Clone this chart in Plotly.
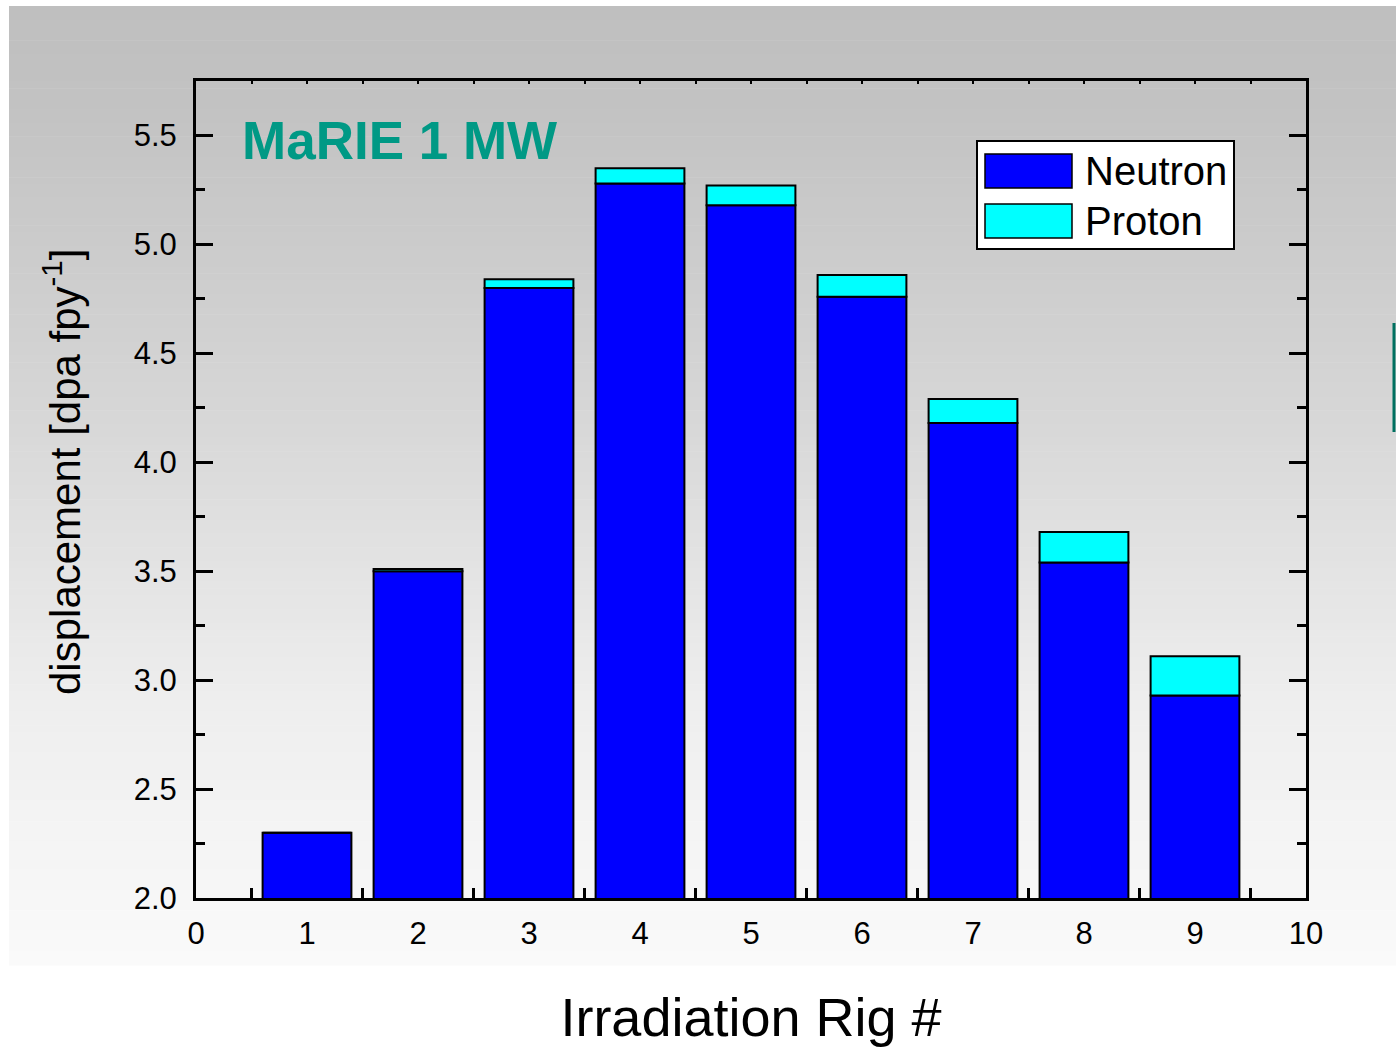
import plotly.graph_objects as go
import numpy as np

rigs = [1, 2, 3, 4, 5, 6, 7, 8, 9]
neutron = [2.30, 3.50, 4.80, 5.28, 5.18, 4.76, 4.18, 3.54, 2.93]
proton = [0.00, 0.01, 0.04, 0.07, 0.09, 0.10, 0.11, 0.14, 0.18]
series_names = ["Neutron", "Proton"]
series_colors = ["#0000ff", "#00ffff"]
title_text = "MaRIE 1 MW"
x_title = "Irradiation Rig #"
y_title = "displacement [dpa fpy<sup>-1</sup>]"

W, H = 1396, 1048
L, R, T, B = 196, 90, 81, 150
PW, PH = W - L - R, H - T - B
FONT = "Liberation Sans, Arial, sans-serif"


def px(x):
    return (x - L) / PW


def py(y):
    return (H - B - y) / PH


fig = go.Figure()
fig.add_trace(go.Bar(x=rigs, y=neutron, name=series_names[0], width=0.8,
                     marker=dict(color=series_colors[0], line=dict(color="black", width=2)),
                     base=0, showlegend=False))
fig.add_trace(go.Bar(x=rigs, y=proton, name=series_names[1], width=0.8,
                     marker=dict(color=series_colors[1], line=dict(color="black", width=2)),
                     base=neutron, showlegend=False))
# dummy trace for top/right tick axes
fig.add_trace(go.Scatter(x=[None], y=[None], xaxis="x2", yaxis="y2", showlegend=False,
                         hoverinfo="skip", mode="markers"))

shapes = []
# background gradient
stops_y = [6, 100, 380, 700, 900, 965]
stops_v = [191, 194, 212, 238, 247, 250]
n = 140
edges = np.linspace(6, 965, n + 1)
for i in range(n):
    ym = 0.5 * (edges[i] + edges[i + 1])
    v = int(round(np.interp(ym, stops_y, stops_v)))
    shapes.append(dict(type="rect", xref="paper", yref="paper", layer="below",
                       x0=px(9), x1=px(W + 2), y0=py(edges[i + 1] + 0.6), y1=py(edges[i]),
                       fillcolor=f"rgb({v},{v},{v})", line=dict(width=0)))
# teal artifact at right edge
shapes.append(dict(type="line", xref="paper", yref="paper", x0=px(1394), x1=px(1394),
                   y0=py(323), y1=py(432), line=dict(color="#007060", width=3)))
# legend box
shapes.append(dict(type="rect", xref="paper", yref="paper", x0=px(977), x1=px(1234),
                   y0=py(249), y1=py(141), fillcolor="white", line=dict(color="black", width=2)))
sw = [(154, 188), (204, 238)]
annotations = []
for (y0, y1), c, nm in zip(sw, series_colors, series_names):
    shapes.append(dict(type="rect", xref="paper", yref="paper", x0=px(985), x1=px(1072),
                       y0=py(y1), y1=py(y0), fillcolor=c, line=dict(color="black", width=1.5)))
    annotations.append(dict(xref="paper", yref="paper", x=px(1083), y=py((y0 + y1) / 2),
                            text=nm, showarrow=False, xanchor="left", yanchor="middle",
                            font=dict(family=FONT, size=40, color="black")))
annotations.append(dict(xref="paper", yref="paper", x=px(240), y=py(140), text=f"<b>{title_text}</b>",
                        showarrow=False, xanchor="left", yanchor="middle",
                        font=dict(family=FONT, size=53, color="#009985")))
annotations.append(dict(xref="paper", yref="paper", x=px(62), y=py(472), text=y_title,
                        textangle=-90, showarrow=False, xanchor="center", yanchor="middle",
                        font=dict(family=FONT, size=42, color="black")))

fig.update_layout(
    width=W, height=H, margin=dict(l=L, r=R, t=T, b=B, pad=0),
    paper_bgcolor="white", plot_bgcolor="rgba(0,0,0,0)",
    barmode="overlay", bargap=0.2,
    shapes=shapes, annotations=annotations,
    font=dict(family=FONT, color="black"),
    xaxis=dict(range=[0, 10], tickmode="array", tickvals=list(range(11)),
               ticks="inside", ticklen=17, tickwidth=3, tickcolor="black",
               minor=dict(dtick=0.5, ticks="inside", ticklen=10, tickwidth=3, tickcolor="black"),
               showline=True, linewidth=3, linecolor="black", mirror=True,
               showgrid=False, zeroline=False, layer="below traces",
               tickfont=dict(size=31), ticklabelstandoff=6,
               title=dict(text=x_title, font=dict(size=54), standoff=48)),
    yaxis=dict(range=[2, 5.75], tickmode="array", tickvals=[2.0, 2.5, 3.0, 3.5, 4.0, 4.5, 5.0, 5.5],
               ticktext=["2.0", "2.5", "3.0", "3.5", "4.0", "4.5", "5.0", "5.5"],
               ticks="inside", ticklen=17, tickwidth=3, tickcolor="black",
               minor=dict(dtick=0.25, ticks="inside", ticklen=9, tickwidth=3, tickcolor="black"),
               showline=True, linewidth=3, linecolor="black", mirror=True,
               showgrid=False, zeroline=False, layer="below traces",
               tickfont=dict(size=31), ticklabelstandoff=10),
    xaxis2=dict(range=[0, 10], overlaying="x", side="top", anchor="y2", dtick=0.5, tick0=0,
                ticks="inside", ticklen=3, tickwidth=2, tickcolor="black",
                showticklabels=False, showgrid=False, zeroline=False, showline=False),
    yaxis2=dict(range=[2, 5.75], overlaying="y", side="right", anchor="x2", dtick=0.5, tick0=2,
                ticks="inside", ticklen=17, tickwidth=3, tickcolor="black",
                minor=dict(dtick=0.25, ticks="inside", ticklen=9, tickwidth=3, tickcolor="black"),
                showticklabels=False, showgrid=False, zeroline=False, showline=False),
)

fig.write_html("out.html")
